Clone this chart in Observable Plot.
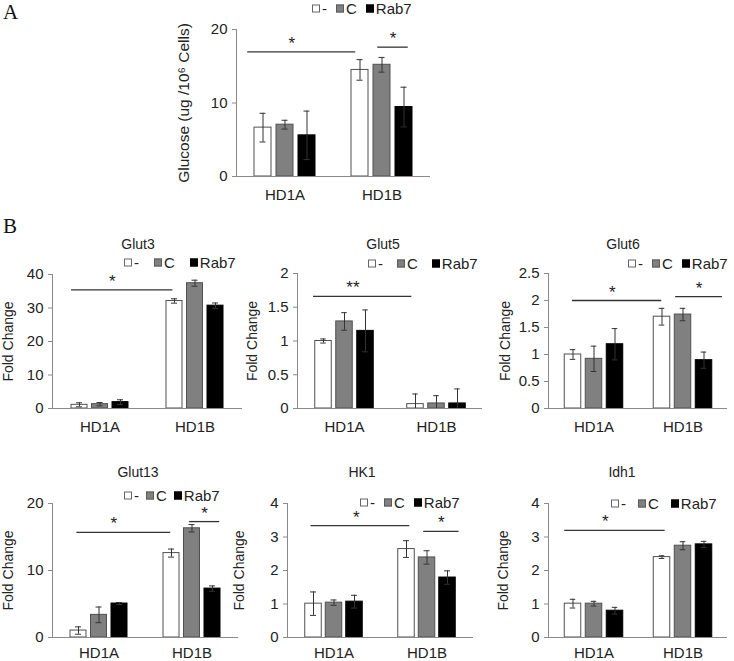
<!DOCTYPE html>
<html><head><meta charset="utf-8">
<script src="https://cdn.jsdelivr.net/npm/d3@7"></script>
<script src="https://cdn.jsdelivr.net/npm/@observablehq/plot@0.6"></script>
<style>
body{margin:0;background:#fff;}
#fig{position:relative;width:734px;height:661px;font-family:"Liberation Sans",Arial,Helvetica,sans-serif;color:#222;overflow:hidden;background:#fff}
.abs{position:absolute;white-space:nowrap;line-height:1}
.letter{font-family:"Liberation Serif","Times New Roman",serif;font-size:21px;color:#111;line-height:1.2}
.title{font-size:14px;transform:translate(-50%,-50%)}
.legend{font-size:15px;display:flex;align-items:center;transform:translateY(-50%)}
.sw{display:inline-block;width:6px;height:6px;border:1px solid #666;margin-right:2px}
.plot{position:absolute}
</style></head><body><div id="fig"></div>
<script>
// ---------- data ----------
const groups = ["HD1A", "HD1B"];
const series = ["-", "C", "Rab7"];

// values listed HD1A (-, C, Rab7), then HD1B (-, C, Rab7)
const glucoseValues = [6.65, 7.05, 5.6, 14.5, 15.2, 9.45];
const glucoseErrors = [1.95, 0.6, 3.3, 1.4, 1.0, 2.7];
const glut3Values = [1.1, 1.3, 1.9, 32.1, 37.4, 30.7];
const glut3Errors = [0.6, 0.5, 0.7, 0.65, 0.9, 0.8];
const glut5Values = [1.0, 1.29, 1.15, 0.065, 0.075, 0.075];
const glut5Errors = [0.03, 0.13, 0.31, 0.15, 0.115, 0.215];
const glut6Values = [1.0, 0.92, 1.19, 1.70, 1.74, 0.895];
const glut6Errors = [0.09, 0.235, 0.29, 0.155, 0.115, 0.15];
const glut13Values = [1.04, 3.38, 5.07, 12.6, 16.3, 7.3];
const glut13Errors = [0.55, 1.17, 0.15, 0.6, 0.55, 0.4];
const hk1Values = [1.01, 1.04, 1.07, 2.64, 2.39, 1.79];
const hk1Errors = [0.35, 0.08, 0.19, 0.25, 0.2, 0.2];
const idh1Values = [1.01, 1.01, 0.8, 2.4, 2.74, 2.78];
const idh1Errors = [0.13, 0.07, 0.1, 0.04, 0.12, 0.09];

const glucoseTicks = [0, 10, 20];
const glut3Ticks = [0, 10, 20, 30, 40];
const glut5Ticks = [0, 0.5, 1, 1.5, 2];
const glut6Ticks = [0, 0.5, 1, 1.5, 2, 2.5];
const glut13Ticks = [0, 10, 20];
const hk1Ticks = [0, 1, 2, 3, 4];
const idh1Ticks = [0, 1, 2, 3, 4];

const glucoseLabel = "Glucose (ug /10\u2076 Cells)";
const foldLabel = "Fold Change";
const panelTitles = ["Glut3", "Glut5", "Glut6", "Glut13", "HK1", "Idh1"];
const panelLetters = ["A", "B"];

// significance brackets: from group/series -> to group/series
const glucoseSig = [
  {from: "HD1A", fromSeries: "-", to: "HD1B", toSeries: "-", y: 16.95, label: "*"},
  {from: "HD1B", fromSeries: "C", to: "HD1B", toSeries: "Rab7", y: 17.6, label: "*"}];
const glut3Sig = [{from: "HD1A", fromSeries: "-", to: "HD1B", toSeries: "-", y: 35.4, label: "*"}];
const glut5Sig = [{from: "HD1A", fromSeries: "-", to: "HD1B", toSeries: "-", y: 1.66, label: "**"}];
const glut6Sig = [
  {from: "HD1A", fromSeries: "-", to: "HD1B", toSeries: "-", y: 2.0, label: "*"},
  {from: "HD1B", fromSeries: "C", to: "HD1B", toSeries: "Rab7", y: 2.07, label: "*"}];
const glut13Sig = [
  {from: "HD1A", fromSeries: "-", to: "HD1B", toSeries: "-", y: 15.7, label: "*"},
  {from: "HD1B", fromSeries: "C", to: "HD1B", toSeries: "Rab7", y: 17.3, label: "*"}];
const hk1Sig = [
  {from: "HD1A", fromSeries: "-", to: "HD1B", toSeries: "-", y: 3.34, label: "*"},
  {from: "HD1B", fromSeries: "C", to: "HD1B", toSeries: "Rab7", y: 3.17, label: "*"}];
const idh1Sig = [{from: "HD1A", fromSeries: "-", to: "HD1B", toSeries: "-", y: 3.2, label: "*"}];

// ---------- style / layout ----------
const FONT = '"Liberation Sans", Arial, Helvetica, sans-serif';
const fills = ["#ffffff", "#808080", "#000000"];
const strokes = ["#505050", "#505050", "#000000"];
const axisColor = "#8a8a8a";
const errColor = "#333";
const sigColor = "#333";

// ax/bx: x-range px, top/bottom: y-range px, W bar width, S bar step
// sig: [start fraction of from-bar, end fraction of to-bar, star shift]; lg: legend gap
const layout = {
  A:      {ax: 236, bx: 430, top: 29,  bottom: 176, ml: 66, lo: 59, W: 17, S: 22, legend: [312, 8], lg: 9, tp: 13, lf: 15.5,
           sig: [[-0.4, 0.25, 10], [0.25, 0.75, 0]]},
  Glut3:  {ax: 52,  bx: 242, top: 274, bottom: 408, ml: 52, lo: 49, W: 16, S: 20.5, legend: [124, 262], lg: 15, title: [138, 244], tp: 13, lf: 14,
           sig: [[0, 0.4, 10]]},
  Glut5:  {ax: 297, bx: 482, top: 273, bottom: 408, ml: 52, lo: 50, W: 17, S: 21, legend: [368, 263], lg: 14, title: [383, 244], tp: 13, lf: 14,
           sig: [[-0.1, 0.3, 10]]},
  Glut6:  {ax: 548, bx: 727, top: 273, bottom: 408, ml: 52, lo: 48, W: 17, S: 21, legend: [628, 263], lg: 9, title: [623, 244], tp: 13, lf: 14,
           sig: [[0.45, 0.5, 5], [0.05, 1.6, 0]]},
  Glut13: {ax: 52,  bx: 238, top: 503, bottom: 637, ml: 52, lo: 49, W: 16, S: 20.5, legend: [124, 495], lg: 7, title: [138, 472], tp: 10, lf: 14,
           sig: [[0.4, 0.45, 10], [0.35, 0.95, 0]]},
  HK1:    {ax: 287, bx: 473, top: 503, bottom: 637, ml: 56, lo: 53, W: 16.5, S: 20.5, legend: [360, 502], lg: 9, title: [362, 472], tp: 10, lf: 14,
           sig: [[0.35, 0.7, 4], [0.3, 1.2, 0]]},
  Idh1:   {ax: 548, bx: 727, top: 503, bottom: 637, ml: 52, lo: 50, W: 17, S: 21, legend: [611, 503], lg: 12, title: [622, 472], tp: 10, lf: 14,
           sig: [[0, 0.7, 10]]}
};

const fig = document.getElementById("fig");

function addDiv(cls, html, left, top, extra) {
  const d = document.createElement("div");
  d.className = "abs " + cls;
  d.innerHTML = html;
  d.style.left = left + "px";
  d.style.top = top + "px";
  if (extra) Object.assign(d.style, extra);
  fig.appendChild(d);
  return d;
}

function addLegend(left, cy, gap) {
  const d = addDiv("legend", "", left, cy);
  series.forEach((s, i) => {
    const sw = document.createElement("span");
    sw.className = "sw";
    sw.style.background = fills[i];
    sw.style.borderColor = i === 0 ? "#666" : (i === 1 ? "#5a5a5a" : "#000");
    if (i > 0) sw.style.marginLeft = gap + "px";
    d.appendChild(sw);
    const t = document.createElement("span");
    t.textContent = s;
    d.appendChild(t);
  });
}

function panel(key, values, errors, ticks, ylabel, sig) {
  const L = layout[key];
  const B = (L.bx - L.ax) / 2;
  const data = groups.flatMap((g, gi) => series.map((s, si) => ({
    group: g, series: s, value: values[gi * 3 + si], error: errors[gi * 3 + si]})));
  const ymax = ticks[ticks.length - 1];
  const mt = 12, mr = 6, mb = 32;
  const marks = [];
  series.forEach((s, i) => {
    const sub = data.filter(d => d.series === s);
    const off = (i - 1) * L.S;
    marks.push(Plot.barY(sub, {x: "group", y: "value", fill: fills[i], stroke: strokes[i], strokeWidth: 1,
      insetLeft: (B - L.W) / 2 + off, insetRight: (B - L.W) / 2 - off}));
    marks.push(Plot.ruleX(sub, {x: "group", y1: d => Math.max(0, d.value - d.error), y2: d => d.value + d.error,
      dx: off, stroke: errColor, strokeWidth: 1}));
    const capL = B / 2 + off - 3, capR = B / 2 - off - 3;
    marks.push(Plot.tickY(sub, {x: "group", y: d => d.value + d.error, insetLeft: capL, insetRight: capR, stroke: errColor}));
    marks.push(Plot.tickY(sub.filter(d => d.value - d.error > 0), {x: "group", y: d => d.value - d.error,
      insetLeft: capL, insetRight: capR, stroke: errColor}));
  });
  sig.forEach((sg, k) => {
    const [f1, f2, shift] = L.sig[k];
    const i1 = series.indexOf(sg.fromSeries), i2 = series.indexOf(sg.toSeries);
    const g1 = groups.indexOf(sg.from), g2 = groups.indexOf(sg.to);
    const p1 = (B - L.W) / 2 + (i1 - 1) * L.S + f1 * L.W;
    const p2 = (B - L.W) / 2 + (i2 - 1) * L.S + f2 * L.W;
    const mid = (g1 * B + p1 + g2 * B + p2) / 2 - shift;
    marks.push(Plot.ruleY([sg], {x1: "from", x2: "to", y: "y", stroke: sigColor, strokeWidth: 1.3,
      insetLeft: p1, insetRight: B - p2}));
    marks.push(Plot.text([sg], {x: "from", y: "y", text: "label", dx: mid - (g1 * B + B / 2), dy: -3,
      lineAnchor: "bottom", fontSize: 17, fill: "#222"}));
  });
  marks.push(Plot.ruleY([0], {stroke: axisColor}));
  marks.push(Plot.frame({anchor: "left", stroke: axisColor}));
  marks.push(Plot.axisY(ticks, {tickSize: 4, tickPadding: 5, fontSize: 15, stroke: axisColor, fill: "#222",
    tickFormat: d => String(d), label: null}));
  marks.push(Plot.axisY([], {fontSize: L.lf, fill: "#222", label: ylabel, labelAnchor: "center",
    labelOffset: L.lo, labelArrow: "none"}));
  marks.push(Plot.axisX({tickSize: 0, tickPadding: L.tp, fontSize: 15, fill: "#222"}));
  const p = Plot.plot({
    width: L.ml + (L.bx - L.ax) + mr,
    height: mt + (L.bottom - L.top) + mb,
    marginLeft: L.ml, marginRight: mr, marginTop: mt, marginBottom: mb,
    style: {fontFamily: FONT, fontSize: "14px", color: "#222", background: "transparent", overflow: "visible"},
    x: {domain: groups, padding: 0},
    y: {domain: [0, ymax]},
    marks
  });
  p.classList.add("plot");
  p.style.left = (L.ax - L.ml) + "px";
  p.style.top = (L.top - mt) + "px";
  fig.appendChild(p);
  addLegend(L.legend[0], L.legend[1], L.lg);
}

addDiv("letter", panelLetters[0], 3, 0);
addDiv("letter", panelLetters[1], 3, 214);

panel("A", glucoseValues, glucoseErrors, glucoseTicks, glucoseLabel, glucoseSig);
panel("Glut3", glut3Values, glut3Errors, glut3Ticks, foldLabel, glut3Sig);
panel("Glut5", glut5Values, glut5Errors, glut5Ticks, foldLabel, glut5Sig);
panel("Glut6", glut6Values, glut6Errors, glut6Ticks, foldLabel, glut6Sig);
panel("Glut13", glut13Values, glut13Errors, glut13Ticks, foldLabel, glut13Sig);
panel("HK1", hk1Values, hk1Errors, hk1Ticks, foldLabel, hk1Sig);
panel("Idh1", idh1Values, idh1Errors, idh1Ticks, foldLabel, idh1Sig);

["Glut3", "Glut5", "Glut6", "Glut13", "HK1", "Idh1"].forEach((k, i) => {
  const t = layout[k].title;
  addDiv("title", panelTitles[i], t[0], t[1]);
});
</script></body></html>
